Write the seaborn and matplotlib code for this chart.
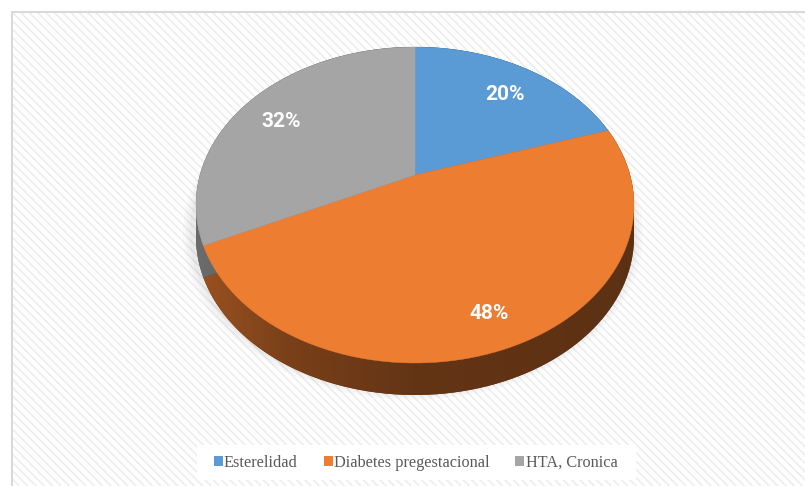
import numpy as np
import matplotlib
matplotlib.use("Agg")
import matplotlib.pyplot as plt
import seaborn as sns
from matplotlib.patches import Rectangle, Patch, Ellipse, Polygon
from matplotlib.colors import to_rgb

categories = ["Esterelidad", "Diabetes pregestacional", "HTA, Cronica"]
values = [20, 48, 32]
colors = ["#5b9bd5", "#ed7d31", "#a5a5a5"]

sns.set_theme(style="white")
plt.rcParams["font.family"] = ["Liberation Serif", "DejaVu Sans"]
plt.rcParams["hatch.linewidth"] = 1.2

W, H = 805, 486
fig = plt.figure(figsize=(W / 100, H / 100), dpi=100)
fig.patch.set_facecolor("white")

# background panel with diagonal hatch
fig.patches.append(Rectangle((12 / W, -0.01), (W - 10) / W, (H - 12) / H + 0.01,
                             transform=fig.transFigure, facecolor="white",
                             edgecolor="#ededed", hatch="\\\\\\\\", lw=0, zorder=0))
fig.patches.append(Rectangle((12 / W, -0.01), (W + 10) / W, (H - 12) / H + 0.01,
                             transform=fig.transFigure, facecolor="none",
                             edgecolor="#d9d9d9", lw=1.5, zorder=0.5))

# pie geometry (pixels)
cx, cy, rx, ry, depth_px, tilt_px = 415, 205, 219, 158, 32, 30
ax = fig.add_axes([0, 0, 1, 1], zorder=2)
ax.patch.set_alpha(0)
x0 = -cx / rx
y0 = -(H - cy) / ry
depth = depth_px / ry
a = tilt_px / ry
s = np.sqrt(1 - a * a)


def persp(xy):
    xy = np.atleast_2d(xy)
    d = 1 + a * xy[:, 1]
    return np.column_stack([xy[:, 0] * s / d, (xy[:, 1] + a) / d])


def flatten(path):
    pts = []
    t = np.linspace(0, 1, 24)
    for seg, code in path.iter_bezier():
        pts.append(np.atleast_2d(seg(t)))
    return np.vstack(pts)


def hull(pts):
    pts = sorted(set(map(tuple, np.round(pts, 6))))
    def cross(o, p, q):
        return (p[0] - o[0]) * (q[1] - o[1]) - (p[1] - o[1]) * (q[0] - o[0])
    lower, upper = [], []
    for p in pts:
        while len(lower) >= 2 and cross(lower[-2], lower[-1], p) <= 0:
            lower.pop()
        lower.append(p)
    for p in reversed(pts):
        while len(upper) >= 2 and cross(upper[-2], upper[-1], p) <= 0:
            upper.pop()
        upper.append(p)
    return np.array(lower[:-1] + upper[:-1])


# soft shadow
for k, al in zip([1.05, 1.035, 1.02], [0.035, 0.045, 0.06]):
    ax.add_patch(Ellipse((-0.01, -depth * 0.9), 2 * k, 2 * k, facecolor="#707070",
                         alpha=al, lw=0, zorder=0))

wedges, texts, autotexts = ax.pie(
    values, colors=colors, startangle=90, counterclock=False,
    autopct="%d%%", pctdistance=0.8, wedgeprops=dict(lw=0),
    textprops=dict(color="white", fontsize=15, fontweight="bold",
                   family=["Roboto", "DejaVu Sans"]))

xs = np.linspace(-1.02, 1.02, 500)
tpos = (xs + 1.02) / 2.04
fac = np.interp(tpos, [0, 0.22, 0.5, 1], [0.66, 0.51, 0.42, 0.39])

tops = []
for w, c in zip(wedges, colors):
    poly = persp(flatten(w.get_path()))
    tops.append(poly)
    w.set_visible(False)
    shifted = poly - np.array([0, depth])
    h = hull(np.vstack([poly, shifted]))
    rgb = np.array(to_rgb(c))
    side = Polygon(h, closed=True, facecolor=tuple(rgb * 0.45), lw=0, zorder=1,
                   transform=ax.transData)
    ax.add_patch(side)
    img = np.tile((rgb[None, :] * fac[:, None])[None, :, :], (2, 1, 1))
    im = ax.imshow(img, extent=(-1.02, 1.02, -1 - depth - 0.05, 1.05),
                   aspect="auto", zorder=1, interpolation="bilinear")
    im.set_clip_path(side)

for poly, c in zip(tops, colors):
    ax.add_patch(Polygon(poly, closed=True, facecolor=c, edgecolor=c, lw=0.3, zorder=2))

for t in autotexts:
    p = persp(np.array(t.get_position()))[0]
    t.set_position((p[0], p[1] - 7 / ry))
    t.set_zorder(3)

ax.set_aspect("auto")
ax.set_xlim(x0, x0 + W / rx)
ax.set_ylim(y0, y0 + H / ry)
ax.axis("off")

# legend
fig.patches.append(Rectangle((197 / W, 1 - 480 / H), (636 - 197) / W, 35 / H,
                             transform=fig.transFigure, facecolor="white",
                             edgecolor="none", zorder=2.5))
handles = [Patch(facecolor=c, edgecolor="none", label=l) for c, l in zip(colors, categories)]
leg = fig.legend(handles=handles, loc="center", bbox_to_anchor=(415.5 / W, 1 - 462.5 / H),
                 ncol=3, frameon=False, fontsize=11.7,
                 handlelength=0.55, handleheight=0.55, handletextpad=0.08,
                 columnspacing=1.6, borderpad=0.2, borderaxespad=0)
leg.set_zorder(3)
for txt in leg.get_texts():
    txt.set_color("#595959")

fig.savefig("out.png", dpi=100)
